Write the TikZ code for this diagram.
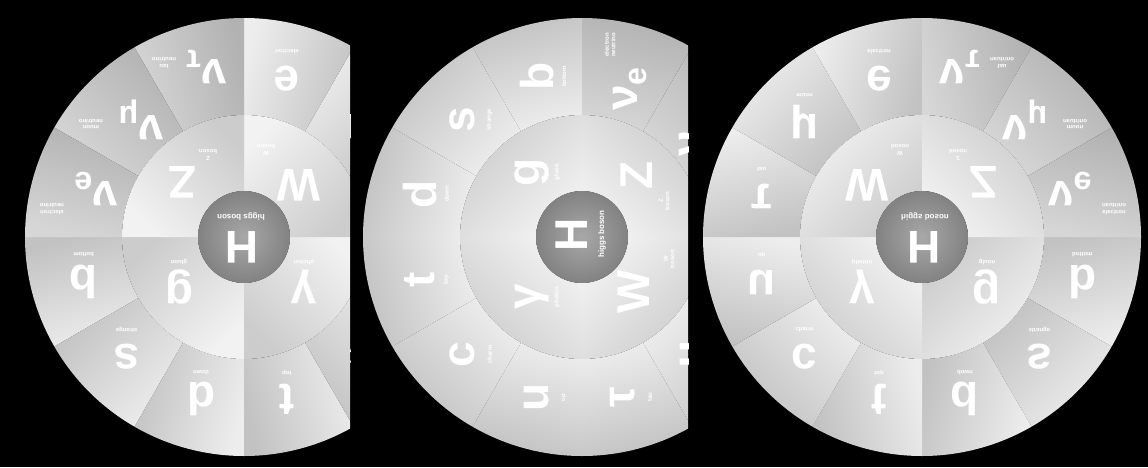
\documentclass[tikz,border=0pt]{standalone}
\usepackage{fontspec}
\setmainfont{Liberation Sans}
\definecolor{bgblack}{HTML}{000000}
\definecolor{segdark}{HTML}{C2C2C2}
\definecolor{seglight}{HTML}{EDEDED}
\definecolor{nudark}{HTML}{B2B2B2}
\definecolor{nulight}{HTML}{D6D6D6}
\definecolor{ringdark}{HTML}{CCCCCC}
\definecolor{ringlight}{HTML}{F2F2F2}
\definecolor{hdark}{HTML}{828282}
\definecolor{hlight}{HTML}{A8A8A8}
\tikzset{
  partsym/.style={text=white,inner sep=0pt,font=\fontsize{46}{46}\selectfont\bfseries},
  partname/.style={text=white,inner sep=0pt,align=center,font=\fontsize{6}{6.5}\selectfont\bfseries},
}

% one particle wheel, upright, centred on the origin
\newcommand\wheel[1]{%
  \foreach \a/\lo/\hi [evaluate=\a as \m using \a+15] in
    {0/segdark/seglight,30/segdark/seglight,60/segdark/seglight,
     90/segdark/seglight,120/segdark/seglight,150/segdark/seglight,
     180/segdark/seglight,210/segdark/seglight,240/segdark/seglight,
     270/nudark/nulight,300/nudark/nulight,330/nudark/nulight}
    \path[left color=\lo,right color=\hi,shading angle=\m]
      (\a:122) -- (\a:219) arc[start angle=\a,end angle=\a+30,radius=219]
      -- ({\a+30}:122) arc[start angle=\a+30,end angle=\a,radius=122] -- cycle;
  \foreach \a [evaluate=\a as \m using \a+45] in {0,90,180,270}
    \path[left color=ringdark,right color=ringlight,shading angle=\m]
      (\a:46) -- (\a:122) arc[start angle=\a,end angle=\a+90,radius=122]
      -- ({\a+90}:46) arc[start angle=\a+90,end angle=\a,radius=46] -- cycle;
  \shade[inner color=hlight,outer color=hdark] (0,0) circle[radius=46];
  \node[partsym] (#1-h) at (2,10) {H};
  \node[partname,font=\fontsize{8}{8}\selectfont\bfseries] (#1-hl) at (3,-20) {higgs boson};
  % bosons
  \foreach \i/\sx/\sy/\lx/\ly/\s/\n in
    {1/65/50/65/25/g/gluon, 2/-60/50/-60/25/γ/photon,
     3/-55/-52/-22/-87/W/W\\boson, 4/62/-55/36/-82/Z/Z\\boson}{
    \node[partsym] (#1-b\i) at (\sx,\sy) {\s};
    \node[partname] (#1-bl\i) at (\lx,\ly) {\n};
  }
  % quarks and charged leptons
  \foreach \i/\m/\s/\n in
    {1/15/b/bottom, 2/45/s/strange, 3/75/d/down, 4/105/t/top,
     5/135/c/charm, 6/165/u/up, 7/195/τ/tau, 8/225/μ/muon, 9/255/e/electron}{
    \node[partsym] (#1-f\i) at ({166*cos(\m)},{166*sin(\m)+2}) {\s};
    \node[partname] (#1-fl\i) at ({166*cos(\m)},{166*sin(\m)-25}) {\n};
  }
  % neutrinos
  \foreach \i/\sx/\sy/\lx/\ly/\s/\n in
    {1/38/-170/80/-174/τ/tau\\neutrino, 2/103/-117/153/-113/μ/muon\\neutrino,
     3/148/-48/192/-28/e/electron\\neutrino}{
    \node[partsym] (#1-n\i) at (\sx,\sy) {ν\textsubscript{\s}};
    \node[partname] (#1-nl\i) at (\lx,\ly) {\n};
  }
}

\begin{document}
\begin{tikzpicture}[x=1pt,y=1pt]
\useasboundingbox (0,0) rectangle (1148,467);
\fill[bgblack] (0,0) rectangle (1148,467);
% left wheel, half turn, cut on the right
\begin{scope}
  \clip (0,0) rectangle (350,467);
  \begin{scope}[shift={(244,230)},rotate=180,transform shape]
    \wheel{l}
  \end{scope}
\end{scope}
% middle wheel, quarter turn, cut on the right
\begin{scope}
  \clip (352,0) rectangle (688,467);
  \begin{scope}[shift={(582,230)},rotate=90,transform shape]
    \wheel{m}
  \end{scope}
\end{scope}
% right wheel, upside down
\begin{scope}[shift={(922,230)},yscale=-1,transform shape]
  \wheel{r}
\end{scope}
\end{tikzpicture}
\end{document}
